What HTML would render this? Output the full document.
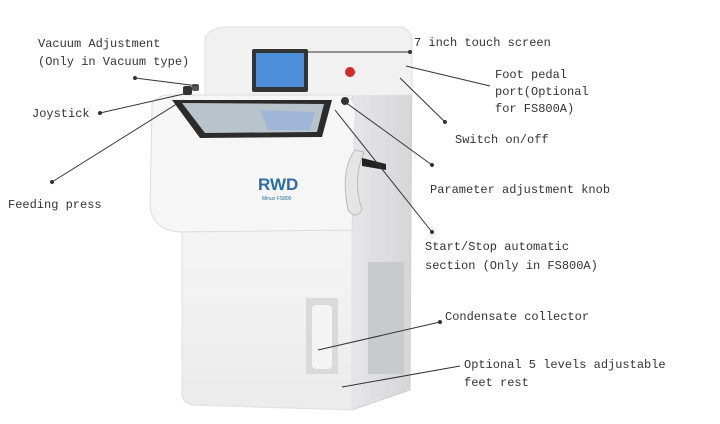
<!DOCTYPE html>
<html><head><meta charset="utf-8"><style>
html,body{margin:0;padding:0;background:#fff;}
svg{display:block;}
text{font-family:"Liberation Mono","Noto Serif CJK SC",monospace;font-size:12px;fill:#333;}
</style></head><body>
<svg width="720" height="424" viewBox="0 0 720 424" xmlns="http://www.w3.org/2000/svg">
<defs>
<marker id="a" markerWidth="6" markerHeight="6" refX="3" refY="3" orient="auto"><circle cx="3" cy="3" r="2" fill="#333"/></marker>
<linearGradient id="side" x1="0" x2="1"><stop offset="0" stop-color="#e6e6e8"/><stop offset="1" stop-color="#d6d6d9"/></linearGradient>
<linearGradient id="front" x1="0" x2="0" y1="0" y2="1"><stop offset="0" stop-color="#f5f5f5"/><stop offset="1" stop-color="#ebebec"/></linearGradient>
</defs>
<path d="M352,40 L405,30 Q412,32 412,45 L410,390 L352,410 Z" fill="url(#side)" stroke="#d0d0d2"/>
<rect x="368" y="262" width="36" height="112" fill="#c9cacc"/>
<path d="M205,38 Q210,28 225,27 L400,27 Q412,28 412,45 L412,95 L205,98 Z" fill="#f1f1f1" stroke="#e0e0e0"/>
<rect x="252" y="49" width="56" height="43" rx="2" fill="#333"/>
<rect x="256" y="53" width="48" height="34" fill="#4d8fd8"/>
<circle cx="350" cy="72" r="5" fill="#d42a2a"/>
<path d="M182,225 L352,225 L352,410 L192,405 Q183,403 182,395 Z" fill="url(#front)" stroke="#e0e0e0"/>
<rect x="306" y="298" width="32" height="76" fill="#dadada"/>
<rect x="312" y="305" width="20" height="64" rx="4" fill="#f4f4f4"/>
<path d="M152,108 Q150,100 165,95 L345,95 Q358,100 355,120 L352,230 L180,232 Q152,230 150,205 Z" fill="#f6f6f6" stroke="#dcdcdc"/>
<path d="M172,100 L332,100 L322,137 L200,138 Z" fill="#2c2c2c"/>
<path d="M182,103 L324,104 L317,132 L205,133 Z" fill="#b9c3cc"/>
<path d="M260,110 L315,112 L310,130 L268,130 Z" fill="#9fb6d6"/>
<rect x="183" y="86" width="9" height="9" rx="2" fill="#333"/>
<rect x="192" y="84" width="7" height="7" rx="2" fill="#555"/>
<circle cx="345" cy="101" r="4" fill="#333"/>
<path d="M355,150 Q340,170 348,210 Q355,220 362,210 Q352,180 364,152 Z" fill="#e5e5e5" stroke="#bbb"/>
<path d="M362,158 L386,164 L386,170 L362,166 Z" fill="#222"/>
<text x="258" y="190" style="font-family:'Liberation Sans',sans-serif;font-size:17px;fill:#2a6ea8;font-weight:bold">RWD</text>
<text x="262" y="200" style="font-family:'Liberation Sans',sans-serif;font-size:5px;fill:#2a6ea8">Minux FS800</text>
<g stroke="#333" stroke-width="1" fill="none">
<line x1="307" y1="52" x2="410" y2="52" marker-end="url(#a)"/>
<line x1="198" y1="86" x2="135" y2="78" marker-end="url(#a)"/>
<line x1="188" y1="93" x2="100" y2="113" marker-end="url(#a)"/>
<line x1="183" y1="100" x2="52" y2="182" marker-end="url(#a)"/>
<line x1="406" y1="66" x2="490" y2="86"/>
<line x1="400" y1="78" x2="445" y2="122" marker-end="url(#a)"/>
<line x1="345" y1="102" x2="432" y2="165" marker-end="url(#a)"/>
<line x1="335" y1="110" x2="432" y2="232" marker-end="url(#a)"/>
<line x1="318" y1="350" x2="440" y2="322" marker-end="url(#a)"/>
<line x1="342" y1="387" x2="460" y2="366"/>
</g>
<text x="38" y="47">Vacuum Adjustment</text>
<text x="38" y="65">(Only in Vacuum type)</text>
<text x="32" y="117">Joystick</text>
<text x="8" y="208">Feeding press</text>
<text x="414" y="46">7 inch touch screen</text>
<text x="495" y="78">Foot pedal</text>
<text x="495" y="95">port(Optional</text>
<text x="495" y="112">for FS800A)</text>
<text x="455" y="143">Switch on/off</text>
<text x="430" y="193">Parameter adjustment knob</text>
<text x="425" y="250">Start/Stop automatic</text>
<text x="425" y="269">section (Only in FS800A)</text>
<text x="445" y="320">Condensate collector</text>
<text x="464" y="368">Optional 5 levels adjustable</text>
<text x="464" y="386">feet rest</text>
</svg>
</body></html>
